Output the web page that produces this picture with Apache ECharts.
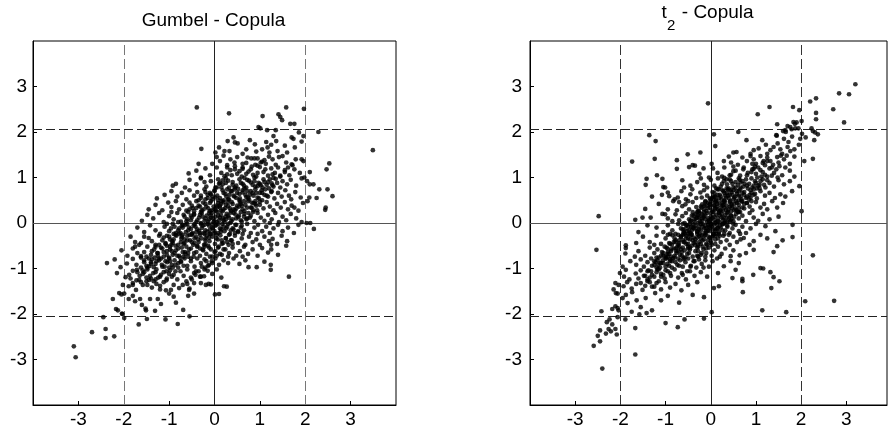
<!DOCTYPE html>
<html>
<head>
<meta charset="utf-8">
<script src="https://cdn.jsdelivr.net/npm/echarts@6/dist/echarts.min.js"></script>
<style>
html, body { margin: 0; padding: 0; background: #fff; }
#chart { width: 888px; height: 435px; }
</style>
</head>
<body>
<div id="chart"></div>
<script>
const tickValues = [-3, -2, -1, 0, 1, 2, 3];
const refVertical = [-2, 0, 2];
const refHorizontal = [-2.05, 0, 2.05];

// Gumbel copula sample (outer part of the cloud)
const gumbelPoints = [
  [-0.39,2.54],[0.32,2.41],[1.06,2.35],[1.58,2.54],[1.97,2.51],[1.41,2.39],[1.45,2.33],[1.49,2.26],[1.67,2.18],[1.76,2.18],
  [0.97,2.11],[1.01,2.08],[1.16,2.04],[1.35,2.04],[1.86,1.99],[2.29,2.0],[1.96,1.91],
  [1.70,1.88],[1.74,1.85],[1.30,1.91],[3.49,1.60],[0.42,1.88],[0.45,1.77],[0.29,1.80],[0.10,1.66],[0.89,1.73],[1.14,1.78],
  [1.17,1.66],[1.36,1.80],[1.77,1.66],[1.92,1.79],[0.22,1.58],[0.33,1.58],[0.92,1.57],[1.21,1.55],[1.39,1.58],[-0.29,1.63],
  [0.51,1.75],[0.62,1.52],[1.05,1.62],[1.55,1.70],[0.70,1.62],[1.60,1.55],[0.02,1.55],[0.78,1.82],[1.25,1.72],
  [-0.35,1.30],[0.05,1.45],[0.12,1.36],[0.28,1.27],[0.44,1.33],[0.50,1.45],[0.73,1.44],[0.81,1.42],[0.88,1.42],[0.95,1.42],
  [1.05,1.35],[1.13,1.30],[1.28,1.40],[1.35,1.28],[1.50,1.47],[1.58,1.33],[1.79,1.40],[1.92,1.40],[1.96,1.36],[2.53,1.31],
  [0.62,1.30],[0.20,1.48],[-0.05,1.30],[0.90,1.28],[1.42,1.45],[1.70,1.29],[0.35,1.40],[1.20,1.46],
  [-0.57,1.09],[-0.40,1.15],[-0.20,1.20],[-0.10,1.05],[0.05,1.22],[0.15,1.10],[0.28,1.22],[0.38,1.05],[0.55,1.14],[0.62,1.22],
  [0.70,1.08],[0.80,1.18],[0.92,1.02],[1.00,1.23],[1.08,1.12],[1.18,1.04],[1.25,1.20],[1.33,1.10],[1.45,1.02],[1.55,1.16],
  [1.72,1.27],[1.76,1.18],[1.65,1.05],[1.88,1.10],[1.98,1.00],[2.47,1.18],[0.45,1.18],[0.22,1.03],[-0.30,1.00],[1.40,1.22],
  [0.85,1.06],[2.10,1.12],
  [-0.92,0.82],[-0.85,0.86],[-0.65,0.78],[-0.55,0.95],[-0.40,0.85],[-0.30,0.98],[-0.18,0.80],[-0.08,0.92],[0.02,0.78],[0.08,0.96],
  [0.18,0.85],[0.25,0.98],[0.32,0.78],[0.40,0.90],[0.48,0.82],[0.55,0.96],[0.62,0.86],[0.70,0.78],[0.76,0.93],[0.84,0.84],
  [0.90,0.80],[0.97,0.88],[1.02,0.83],[1.06,0.78],[1.10,0.90],[1.15,0.84],[1.22,0.96],[1.30,0.80],[1.38,0.88],[1.45,0.78],
  [1.50,0.92],[1.60,0.85],[1.68,0.95],[1.80,0.82],[2.04,0.92],[2.18,0.85],[2.10,0.85],[1.92,0.98],[0.12,0.88],[0.66,0.99],
  [1.26,0.87],[-0.22,0.90],
  [-1.27,0.54],[-1.10,0.62],[-0.95,0.70],[-0.82,0.58],[-0.72,0.66],[-0.62,0.52],[-0.55,0.72],[-0.45,0.60],[-0.38,0.68],[-0.30,0.55],
  [-0.22,0.74],[-0.15,0.62],[-0.05,0.52],[0.00,0.70],[0.06,0.60],[0.12,0.55],[0.18,0.72],[0.24,0.64],[0.30,0.52],[0.36,0.70],
  [0.42,0.60],[0.50,0.66],[0.56,0.54],[0.62,0.72],[0.68,0.62],[0.74,0.56],[0.80,0.70],[0.86,0.60],[0.92,0.66],[0.98,0.54],
  [1.04,0.72],[1.10,0.62],[1.18,0.58],[1.26,0.70],[1.32,0.54],[1.40,0.66],[1.48,0.58],[1.56,0.72],[1.64,0.60],[1.69,0.52],
  [1.78,0.68],[1.90,0.56],[2.09,0.56],[2.31,0.74],[2.49,0.74],[2.60,0.59],[2.25,0.55],[0.44,0.74],[-0.10,0.66],[0.20,0.50],
  [-1.45,0.30],[-1.30,0.40],[-1.15,0.28],[-1.02,0.45],[-0.95,0.35],[-0.85,0.48],[-0.78,0.30],[-0.70,0.40],[-0.62,0.27],[-0.55,0.45],
  [-0.48,0.33],[-0.40,0.48],[-0.35,0.38],[-0.28,0.28],[-0.20,0.42],[-0.14,0.32],[-0.08,0.48],[-0.02,0.36],[0.03,0.27],[0.08,0.44],
  [0.12,0.34],[0.16,0.48],[0.20,0.30],[0.25,0.40],[0.30,0.46],[0.34,0.32],[0.40,0.42],[0.45,0.28],[0.50,0.38],[0.56,0.46],
  [0.62,0.30],[0.68,0.40],[0.74,0.48],[0.80,0.34],[0.86,0.44],[0.94,0.28],[1.00,0.40],[1.08,0.32],[1.15,0.46],[1.22,0.36],
  [1.30,0.28],[1.38,0.42],[1.46,0.34],[1.55,0.46],[1.62,0.30],[1.70,0.38],[1.76,0.34],[1.85,0.27],[1.95,0.44],[2.05,0.48],
  [2.44,0.29],[2.45,0.34],[0.05,0.38],[-0.10,0.26],[0.36,0.27],[0.90,0.48],
  [-1.60,0.05],[-1.48,0.18],[-1.35,0.10],[-1.22,0.22],[-1.12,0.02],[-1.00,0.15],[-0.90,0.08],[-0.82,0.22],[-0.74,0.03],[-0.66,0.14],
  [-0.58,0.24],[-0.52,0.06],[-0.45,0.18],[-0.40,0.02],[-0.34,0.12],[-0.28,0.22],[-0.22,0.05],[-0.17,0.16],[-0.12,0.08],[-0.06,0.22],
  [-0.02,0.02],[0.02,0.14],[0.06,0.24],[0.10,0.06],[0.14,0.18],[0.18,0.10],[0.22,0.02],[0.27,0.20],[0.32,0.12],[0.37,0.04],
  [0.42,0.22],[0.48,0.10],[0.54,0.16],[0.60,0.03],[0.66,0.20],[0.72,0.10],[0.80,0.16],[0.88,0.04],[0.95,0.22],[1.02,0.12],
  [1.10,0.05],[1.18,0.18],[1.26,0.08],[1.34,0.22],[1.42,0.02],[1.50,0.14],[1.58,0.06],[1.68,0.20],[1.80,0.10],[1.92,0.02],
  [2.03,0.00],[2.11,0.00],[-0.08,0.12],[0.25,0.08],[-0.30,0.00],[0.58,0.24],[-0.95,0.24],[0.85,0.24],[1.22,0.00],
  [-1.70,-0.10],[-1.55,-0.20],[-1.42,-0.05],[-1.30,-0.16],[-1.20,-0.24],[-1.10,-0.08],[-1.00,-0.18],[-0.92,-0.02],[-0.85,-0.22],[-0.78,-0.12],
  [-0.70,-0.04],[-0.63,-0.20],[-0.56,-0.10],[-0.50,-0.24],[-0.44,-0.02],[-0.38,-0.14],[-0.32,-0.22],[-0.26,-0.06],[-0.20,-0.16],[-0.15,-0.02],
  [-0.10,-0.24],[-0.05,-0.10],[0.00,-0.18],[0.04,-0.04],[0.08,-0.22],[0.12,-0.12],[0.17,-0.02],[0.22,-0.18],[0.28,-0.08],[0.34,-0.24],
  [0.40,-0.12],[0.46,-0.04],[0.52,-0.20],[0.58,-0.10],[0.65,-0.16],[0.72,-0.02],[0.80,-0.22],[0.88,-0.10],[0.96,-0.04],[1.05,-0.18],
  [1.14,-0.08],[1.22,-0.22],[1.30,-0.12],[1.40,-0.04],[1.50,-0.18],[1.62,-0.10],[1.75,-0.22],[2.19,-0.13],[-0.60,-0.02],[-0.22,-0.24],
  [0.15,-0.14],[0.62,-0.24],[-1.05,-0.02],[-0.05,-0.02],[0.30,-0.02],[-0.42,-0.08],[0.95,-0.24],[-0.75,-0.22],[1.85,-0.04],
  [-1.85,-0.30],[-1.75,-0.42],[-1.62,-0.44],[-1.55,-0.30],[-1.45,-0.33],[-1.38,-0.40],[-1.30,-0.48],[-1.22,-0.28],[-1.15,-0.38],[-1.08,-0.46],
  [-1.00,-0.30],[-0.93,-0.40],[-0.86,-0.26],[-0.80,-0.48],[-0.73,-0.34],[-0.66,-0.44],[-0.60,-0.28],[-0.54,-0.38],[-0.47,-0.48],[-0.41,-0.30],
  [-0.35,-0.42],[-0.29,-0.34],[-0.23,-0.48],[-0.17,-0.28],[-0.11,-0.40],[-0.05,-0.30],[0.01,-0.46],[0.07,-0.36],[0.13,-0.27],[0.19,-0.44],
  [0.25,-0.33],[0.31,-0.48],[0.38,-0.38],[0.45,-0.28],[0.52,-0.44],[0.60,-0.34],[0.68,-0.48],[0.76,-0.30],[0.84,-0.42],[0.92,-0.36],
  [1.00,-0.48],[1.10,-0.30],[1.20,-0.40],[1.28,-0.35],[1.38,-0.46],[1.48,-0.28],[1.60,-0.40],[-1.66,-0.48],[-0.95,-0.48],[-0.50,-0.26],
  [0.05,-0.26],[-0.20,-0.38],[0.40,-0.46],[-0.70,-0.26],[1.25,-0.48],[1.58,-0.50],
  [-2.05,-0.60],[-1.92,-0.72],[-1.80,-0.56],[-1.70,-0.66],[-1.62,-0.73],[-1.55,-0.64],[-1.48,-0.52],[-1.40,-0.70],[-1.33,-0.58],[-1.26,-0.66],
  [-1.18,-0.54],[-1.12,-0.74],[-1.05,-0.62],[-0.98,-0.52],[-0.92,-0.70],[-0.85,-0.60],[-0.78,-0.72],[-0.72,-0.54],[-0.65,-0.64],[-0.58,-0.74],
  [-0.52,-0.56],[-0.45,-0.66],[-0.38,-0.52],[-0.32,-0.72],[-0.25,-0.60],[-0.18,-0.68],[-0.12,-0.54],[-0.05,-0.74],[0.02,-0.62],[0.09,-0.52],
  [0.16,-0.70],[0.24,-0.58],[0.32,-0.66],[0.40,-0.54],[0.48,-0.72],[0.56,-0.62],[0.65,-0.52],[0.74,-0.68],[0.84,-0.58],[0.95,-0.72],
  [1.05,-0.55],[1.18,-0.65],[1.25,-0.58],[1.40,-0.70],[-1.75,-0.52],[-0.68,-0.74],[-0.22,-0.52],[0.30,-0.74],[-1.50,-0.74],[0.62,-0.74],
  [-2.37,-0.88],[-2.20,-0.80],[-2.07,-0.97],[-1.93,-0.89],[-1.80,-0.79],[-1.72,-0.92],[-1.62,-0.76],[-1.55,-0.86],[-1.48,-0.98],[-1.44,-0.95],
  [-1.38,-0.80],[-1.30,-0.90],[-1.22,-0.78],[-1.15,-0.96],[-1.08,-0.84],[-1.00,-0.76],[-0.94,-0.92],[-0.88,-0.82],[-0.80,-0.98],[-0.74,-0.86],
  [-0.66,-0.78],[-0.60,-0.94],[-0.52,-0.84],[-0.44,-0.96],[-0.38,-0.78],[-0.30,-0.88],[-0.22,-0.80],[-0.14,-0.94],[-0.06,-0.84],[0.02,-0.78],
  [0.10,-0.92],[0.20,-0.82],[0.30,-0.88],[0.42,-0.78],[0.55,-0.90],[0.68,-0.82],[0.75,-0.97],[0.93,-0.97],[1.10,-0.85],[1.24,-0.92],
  [-1.00,-0.98],[-0.20,-0.98],
  [-2.15,-1.10],[-1.96,-1.19],[-1.88,-1.14],[-1.80,-1.05],[-1.71,-1.03],[-1.66,-1.25],[-1.58,-1.12],[-1.50,-1.20],[-1.44,-1.25],[-1.35,-1.10],
  [-1.28,-1.02],[-1.20,-1.18],[-1.12,-1.08],[-1.05,-1.22],[-0.98,-1.04],[-0.90,-1.14],[-0.82,-1.24],[-0.75,-1.06],[-0.68,-1.16],[-0.60,-1.02],
  [-0.52,-1.20],[-0.45,-1.10],[-0.41,-1.06],[-0.32,-1.18],[-0.23,-1.17],[-0.15,-1.05],[-0.05,-1.12],[0.05,-1.02],[0.15,-1.20],[1.24,-1.03],
  [1.64,-1.18],[-1.30,-1.24],
  [-2.02,-1.36],[-1.89,-1.39],[-1.80,-1.32],[-1.73,-1.47],[-1.58,-1.36],[-1.50,-1.28],[-1.38,-1.42],[-1.28,-1.34],[-1.20,-1.46],[-1.12,-1.30],
  [-1.07,-1.48],[-0.96,-1.47],[-0.90,-1.36],[-0.78,-1.43],[-0.70,-1.36],[-0.62,-1.28],[-0.55,-1.44],[-0.45,-1.32],[-0.30,-1.32],[-0.19,-1.36],
  [-0.13,-1.34],[-0.08,-1.35],[0.21,-1.39],[0.27,-1.40],
  [-2.24,-1.67],[-2.10,-1.54],[-2.05,-1.57],[-1.99,-1.55],[-1.89,-1.67],[-1.80,-1.60],[-1.64,-1.67],[-1.51,-1.92],[-1.42,-1.67],[-1.31,-1.93],
  [-1.25,-1.67],[-1.18,-1.78],[-1.00,-1.55],[-0.90,-1.62],[-0.85,-1.75],[-0.69,-1.91],[-0.56,-1.47],[-0.58,-1.60],[-0.45,-1.55],[-2.17,-1.89],
  [-2.13,-1.92],[-2.04,-1.99],[-1.52,-1.88],[0.10,-1.56],[0.01,-1.57],[-1.60,-1.80],[-1.75,-1.72],
  [-2.45,-2.07],[-1.99,-2.09],[-2.70,-2.40],[-2.40,-2.33],[-2.40,-2.53],[-2.21,-2.49],[-3.10,-2.71],[-3.06,-2.95],[-1.67,-2.23],[-1.49,-2.11],
  [-1.08,-2.12],[-0.81,-2.22],[-0.55,-2.05],[-2.03,-2.00]
];

// dense core of the Gumbel cloud along the diagonal
const gumbelCore = [
  [0.70,1.32],[0.95,1.26],[1.10,1.38],[0.82,1.24],[1.02,1.33],
  [0.60,1.02],[0.75,1.13],[0.95,1.10],[1.12,1.18],[0.50,1.08],[0.88,1.00],[1.28,1.07],
  [0.40,0.84],[0.58,0.88],[0.72,0.95],[0.88,0.92],[1.00,0.86],[1.08,0.96],[0.30,0.93],[0.95,0.81],[0.65,0.82],[1.18,0.90],[0.80,0.89],
  [0.20,0.66],[0.33,0.62],[0.45,0.78],[0.55,0.64],[0.66,0.76],[0.78,0.62],[0.90,0.74],[1.00,0.66],[0.15,0.78],[0.38,0.70],
  [0.72,0.70],[0.52,0.75],[0.84,0.66],[0.28,0.74],[0.62,0.67],
  [-0.10,0.44],[0.02,0.56],[0.14,0.42],[0.26,0.58],[0.38,0.46],[0.48,0.55],[0.58,0.42],[0.70,0.57],[0.82,0.45],[-0.20,0.52],
  [0.08,0.50],[0.32,0.52],[0.55,0.50],[0.20,0.46],[0.44,0.58],[0.65,0.48],[-0.05,0.58],[0.76,0.52],
  [-0.30,0.24],[-0.18,0.36],[-0.06,0.28],[0.06,0.35],[0.18,0.26],[0.30,0.37],[0.42,0.30],[0.54,0.36],[0.66,0.26],[-0.40,0.33],
  [-0.12,0.22],[0.00,0.30],[0.12,0.38],[0.24,0.33],[0.36,0.23],[0.48,0.32],[0.60,0.38],[-0.24,0.30],[0.72,0.34],[0.14,0.27],
  [-0.50,0.12],[-0.38,0.06],[-0.26,0.14],[-0.14,0.03],[-0.03,0.10],[0.08,0.16],[0.20,0.06],[0.30,0.16],[0.40,0.08],[0.52,0.13],
  [-0.45,0.20],[-0.20,0.10],[0.00,0.05],[0.12,0.12],[0.24,0.14],[0.35,0.00],[-0.32,0.18],[-0.08,0.17],[0.46,0.19],[0.05,0.02],[-0.60,0.08],
  [-0.70,-0.10],[-0.58,-0.16],[-0.46,-0.06],[-0.34,-0.17],[-0.22,-0.04],[-0.10,-0.15],[0.02,-0.06],[0.14,-0.19],[0.26,-0.12],[-0.64,-0.04],
  [-0.52,-0.13],[-0.40,-0.20],[-0.28,-0.11],[-0.16,-0.19],[-0.04,-0.12],[0.08,-0.02],[0.20,-0.08],[-0.12,-0.06],[-0.30,-0.02],[0.36,-0.16],
  [-0.90,-0.36],[-0.78,-0.24],[-0.66,-0.36],[-0.55,-0.26],[-0.44,-0.34],[-0.32,-0.26],[-0.20,-0.34],[-0.08,-0.24],[0.04,-0.34],[0.16,-0.38],
  [-0.72,-0.30],[-0.60,-0.38],[-0.48,-0.22],[-0.36,-0.36],[-0.24,-0.22],[-0.12,-0.32],[0.00,-0.22],[-0.84,-0.28],
  [-1.05,-0.50],[-0.92,-0.44],[-0.80,-0.56],[-0.68,-0.46],[-0.56,-0.58],[-0.44,-0.44],[-0.32,-0.56],[-0.20,-0.46],[-0.08,-0.58],[-0.98,-0.58],
  [-0.86,-0.50],[-0.74,-0.42],[-0.62,-0.52],[-0.50,-0.42],[-0.38,-0.50],[-0.26,-0.58],[-0.14,-0.50],
  [-1.25,-0.72],[-1.12,-0.64],[-1.00,-0.78],[-0.88,-0.66],[-0.76,-0.76],[-0.64,-0.68],[-0.52,-0.78],[-0.40,-0.64],[-1.18,-0.78],[-1.05,-0.70],
  [-0.94,-0.62],[-0.82,-0.72],[-0.70,-0.64],[-0.58,-0.66],[-0.46,-0.74],
  [-1.40,-0.90],[-1.28,-0.84],[-1.16,-0.92],[-1.04,-0.86],[-0.92,-0.98],[-0.80,-0.88],[-0.68,-0.94],[-1.34,-0.97],[-1.22,-0.82],[-1.10,-0.96],
  [-0.98,-0.84],[-0.86,-0.92],[-0.74,-0.84],
  [-1.55,-1.08],[-1.42,-1.16],[-1.30,-1.08],[-1.18,-1.14],[-1.06,-1.06],[-0.94,-1.18],[-1.48,-1.02],[-1.24,-1.20],[-1.00,-1.12],[-0.86,-1.06],
  [-1.62,-1.30],[-1.48,-1.36],[-1.34,-1.28],[-1.20,-1.38],[-1.06,-1.26],[-1.40,-1.22]
];

// points either side of the Gumbel core
const gumbelMid = [
  [0.45,1.25],[1.62,1.22],[0.35,1.16],[1.55,1.12],[0.62,1.19],[0.28,1.07],[1.45,1.04],[1.30,0.99],
  [0.18,0.94],[1.35,0.97],[0.25,0.88],[0.10,0.86],[1.28,0.83],[1.20,0.76],[0.05,0.78],
  [0.00,0.72],[1.12,0.74],[1.25,0.68],[-0.08,0.63],[1.05,0.66],[-0.20,0.68],[1.15,0.60],
  [-0.15,0.55],[0.95,0.56],[1.05,0.50],[-0.30,0.60],[-0.25,0.45],[0.90,0.42],[-0.35,0.50],[1.00,0.47],
  [-0.32,0.36],[0.82,0.34],[-0.50,0.38],[0.92,0.38],[-0.45,0.26],[0.75,0.22],[-0.55,0.30],[0.86,0.28],
  [-0.52,0.16],[0.65,0.14],[-0.68,0.18],[0.78,0.12],[-0.62,0.04],[0.58,0.06],[-0.80,0.02],[0.70,0.08],
  [-0.72,-0.06],[0.48,-0.04],[-0.88,-0.08],[0.60,-0.06],[-0.80,-0.16],[0.42,-0.14],[-0.96,-0.12],[0.52,-0.18],
  [-0.90,-0.24],[0.32,-0.26],[-1.05,-0.28],[0.45,-0.22],[-0.98,-0.36],[0.25,-0.34],[-1.12,-0.32],[0.36,-0.38],
  [-1.08,-0.44],[0.16,-0.46],[-1.22,-0.48],[0.28,-0.42],[-1.15,-0.56],[0.08,-0.54],[-1.30,-0.52],[0.20,-0.58],
  [-1.25,-0.66],[0.00,-0.64],[-1.38,-0.62],[0.12,-0.68],[-1.32,-0.76],[-0.10,-0.74],[-1.45,-0.78],[0.05,-0.72],
  [-1.40,-0.86],[-0.18,-0.84],[-1.55,-0.82],[-0.05,-0.88],[-1.50,-0.94],[-0.28,-0.96],[-1.62,-0.98],[-0.12,-0.92],
  [-1.58,-1.04],[-0.35,-1.06],[-1.70,-1.08],[-0.22,-1.02],[-1.65,-1.16],[-0.42,-1.14],[-0.30,-1.18],
  [-1.72,-1.26],[-0.50,-1.24],[-1.85,-1.22],[-1.80,-1.36],[-0.60,-1.34]
];

// t2 copula sample (outer part of the cloud)
const t2Points = [
  [3.20,3.05],[2.84,2.85],[3.06,2.83],[2.71,2.50],[2.95,2.21],[2.33,2.74],[2.20,2.67],[2.33,2.42],[2.33,2.28],[1.82,2.55],
  [1.96,2.48],[1.30,2.55],[1.04,2.39],[2.01,2.24],[1.83,2.22],[1.90,2.21],[1.76,2.11],[1.79,2.06],[1.87,2.08],[1.94,2.08],
  [2.23,2.08],[2.26,2.02],[1.47,2.17],[1.65,2.04],[1.60,2.02],[-0.06,2.63],[1.70,2.13],[1.86,2.18],
  [2.31,1.99],[2.37,1.95],[2.29,1.82],[2.10,1.88],[1.45,1.93],[1.14,1.82],[0.79,1.82],[0.61,2.00],[0.07,1.95],[0.10,1.69],
  [1.70,1.67],[1.76,1.58],[1.39,1.67],[1.32,1.60],[1.54,1.62],[1.58,1.52],[1.25,1.52],[1.06,1.64],[0.50,1.55],[0.57,1.56],
  [-1.36,1.93],[-1.22,1.80],[-0.51,1.51],[-0.23,1.55],[1.46,1.92],[1.66,2.00],[1.80,1.90],[1.72,1.78],[1.95,1.72],[1.85,1.62],
  [1.62,1.85],[1.22,1.72],[0.95,1.60],[1.48,1.75],[2.02,1.96],[1.98,1.85],[0.88,1.52],
  [0.88,1.47],[1.10,1.47],[1.17,1.36],[1.47,1.45],[1.50,1.33],[1.32,1.36],[2.07,1.36],[2.26,1.41],[0.70,1.44],[0.29,1.36],
  [0.45,1.33],[-1.74,1.35],[-1.24,1.41],[-0.75,1.38],[-0.40,1.27],[-0.35,1.26],[0.02,1.30],[0.60,1.28],[0.80,1.36],[1.00,1.30],
  [1.25,1.44],[1.38,1.28],[1.62,1.40],[1.75,1.30],[1.85,1.46],[1.55,1.48],[0.95,1.40],[1.20,1.27],[0.40,1.46],[1.68,1.48],
  [1.52,1.25],[0.73,1.22],[0.92,1.18],[1.10,1.16],[1.65,1.22],[-0.48,1.23],[-0.75,1.19],[-0.16,1.20],[-1.19,1.05],[-0.04,1.00],
  [1.03,1.00],[0.15,1.10],[0.30,1.22],[0.42,1.05],[0.55,1.15],[0.65,1.04],[0.82,1.10],[1.20,1.06],[1.30,1.20],[1.40,1.10],
  [1.58,1.05],[1.75,1.15],[1.85,1.02],[0.05,1.20],[0.25,1.02],[0.98,1.24],[1.48,1.00],[-0.25,1.08],[0.50,1.24],[1.12,1.02],
  [-1.07,0.97],[-1.42,0.97],[-1.44,0.84],[-1.05,0.79],[-1.01,0.78],[-0.63,0.94],[-0.59,0.78],[-0.08,0.78],[0.29,0.92],[0.66,0.89],
  [1.21,0.78],[1.96,0.81],[-0.30,0.90],[-0.15,0.84],[0.00,0.95],[0.08,0.82],[0.16,0.98],[0.22,0.80],[0.36,0.85],[0.42,0.96],
  [0.50,0.78],[0.55,0.90],[0.72,0.80],[0.78,0.96],[0.85,0.86],[0.92,0.78],[0.98,0.92],[1.08,0.84],[1.15,0.96],[1.30,0.88],
  [1.40,0.80],[1.50,0.94],[1.62,0.85],[1.75,0.92],[0.12,0.76],[0.62,0.98],[-0.45,0.82],[0.40,0.76],[1.02,0.76],[-0.22,0.98],
  [0.30,0.99],
  [-0.95,0.67],[-0.92,0.59],[-1.08,0.62],[-0.73,0.56],[-0.41,0.74],[-0.45,0.63],[-0.23,0.67],[1.54,0.63],[-0.65,0.70],[-0.55,0.52],
  [-0.32,0.55],[-0.15,0.72],[-0.08,0.60],[0.00,0.52],[0.04,0.68],[0.10,0.58],[0.15,0.74],[0.20,0.62],[0.24,0.52],[0.28,0.70],
  [0.32,0.60],[0.36,0.66],[0.40,0.54],[0.44,0.72],[0.48,0.62],[0.52,0.56],[0.57,0.70],[0.62,0.60],[0.68,0.52],[0.74,0.68],
  [0.80,0.58],[0.88,0.72],[0.95,0.62],[1.02,0.54],[1.10,0.70],[1.20,0.60],[1.30,0.66],[1.42,0.55],[1.65,0.58],[1.80,0.70],
  [-0.80,0.52],[0.30,0.50],[0.12,0.50],[-0.20,0.56],[0.65,0.74],[0.85,0.52],[0.38,0.74],[0.05,0.58],[-1.30,0.58],
  [-0.83,0.48],[-0.63,0.37],[-0.56,0.41],[-1.45,0.31],[-0.48,0.30],[-0.19,0.41],[1.36,0.48],[1.47,0.34],[1.10,0.34],[2.01,0.26],
  [-1.15,0.42],[-0.95,0.30],[-0.75,0.28],[-0.40,0.46],[-0.32,0.35],[-0.26,0.27],[-0.12,0.48],[-0.06,0.32],[-0.02,0.42],[0.03,0.28],
  [0.07,0.38],[0.11,0.48],[0.15,0.30],[0.19,0.44],[0.23,0.36],[0.27,0.27],[0.31,0.46],[0.35,0.38],[0.39,0.30],[0.43,0.48],
  [0.47,0.34],[0.52,0.42],[0.57,0.28],[0.62,0.40],[0.68,0.48],[0.74,0.32],[0.80,0.44],[0.86,0.36],[0.92,0.28],[1.00,0.46],
  [1.18,0.42],[1.25,0.30],[1.60,0.44],[-0.70,0.46],[0.20,0.27],[0.10,0.33],[-0.15,0.30],[0.45,0.26],[0.28,0.40],[0.56,0.48],
  [0.02,0.47],[-0.50,0.48],[0.90,0.48],
  [-2.48,0.15],[-1.07,0.20],[-1.01,0.19],[-1.51,0.12],[-1.33,0.12],[-1.67,0.07],[-0.78,0.19],[-0.85,0.04],[-0.34,0.19],[-0.63,0.15],
  [-0.70,0.06],[-0.55,0.22],[-0.48,0.08],[-0.42,0.16],[-0.36,0.03],[-0.30,0.12],[-0.25,0.22],[-0.20,0.05],[-0.16,0.16],[-0.12,0.08],
  [-0.08,0.22],[-0.04,0.02],[0.00,0.14],[0.04,0.24],[0.08,0.06],[0.12,0.18],[0.16,0.10],[0.20,0.02],[0.24,0.20],[0.28,0.12],
  [0.32,0.04],[0.36,0.22],[0.40,0.10],[0.45,0.16],[0.50,0.04],[0.56,0.20],[0.62,0.10],[0.70,0.16],[0.78,0.04],[0.86,0.22],
  [0.95,0.12],[1.05,0.05],[1.15,0.20],[1.30,0.08],[1.50,0.14],[-0.95,0.10],[-0.05,0.10],[0.18,0.24],[-0.28,0.00],[0.30,0.00],
  [0.10,0.00],[-0.58,0.00],[0.65,0.24],[-0.15,0.24],[0.42,0.02],[-0.40,0.24],
  [-1.20,-0.10],[-1.05,-0.20],[-0.95,-0.05],[-0.85,-0.16],[-0.78,-0.24],[-0.72,-0.02],[-0.66,-0.12],[-0.60,-0.20],[-0.54,-0.06],[-0.48,-0.16],
  [-0.43,-0.24],[-0.38,-0.03],[-0.34,-0.12],[-0.30,-0.20],[-0.26,-0.08],[-0.22,-0.16],[-0.18,-0.02],[-0.14,-0.22],[-0.10,-0.12],[-0.06,-0.04],
  [-0.02,-0.18],[0.02,-0.08],[0.06,-0.24],[0.10,-0.14],[0.14,-0.04],[0.18,-0.20],[0.22,-0.10],[0.27,-0.02],[0.32,-0.16],[0.37,-0.08],
  [0.42,-0.22],[0.48,-0.12],[0.55,-0.04],[0.62,-0.18],[0.70,-0.08],[0.78,-0.22],[0.88,-0.12],[1.00,-0.02],[1.21,-0.07],[1.43,-0.18],
  [1.81,-0.04],[-1.40,-0.05],[-0.62,-0.02],[-0.24,-0.24],[0.00,-0.02],[0.12,-0.24],[-0.40,-0.10],[0.30,-0.24],[-0.90,-0.24],[0.50,-0.02],
  [-0.12,-0.06],[0.05,-0.14],[-0.50,-0.24],[0.65,-0.24],[-1.60,-0.20],
  [1.81,-0.31],[1.59,-0.38],[0.73,-0.33],[0.86,-0.48],[1.10,-0.26],[-1.88,-0.49],[-1.50,-0.30],[-1.35,-0.42],[-1.20,-0.28],[-1.10,-0.46],
  [-1.00,-0.34],[-0.92,-0.44],[-0.85,-0.27],[-0.78,-0.38],[-0.72,-0.48],[-0.66,-0.30],[-0.60,-0.42],[-0.55,-0.34],[-0.50,-0.46],[-0.45,-0.27],
  [-0.40,-0.38],[-0.35,-0.48],[-0.30,-0.32],[-0.25,-0.42],[-0.20,-0.27],[-0.15,-0.36],[-0.10,-0.46],[-0.05,-0.30],[0.00,-0.40],[0.05,-0.28],
  [0.10,-0.46],[0.16,-0.34],[0.22,-0.42],[0.28,-0.28],[0.35,-0.38],[0.42,-0.48],[0.50,-0.30],[0.58,-0.42],[0.66,-0.36],[0.95,-0.40],
  [1.25,-0.34],[-1.65,-0.44],[-0.95,-0.26],[-0.28,-0.48],[0.20,-0.28],[-0.62,-0.26],[0.02,-0.48],[-0.12,-0.26],[-0.46,-0.36],[0.40,-0.26],
  [-1.25,-0.48],
  [-2.53,-0.59],[-1.88,-0.55],[-1.89,-0.67],[1.47,-0.51],[1.39,-0.64],[2.26,-0.71],[0.44,-0.73],[0.64,-0.71],[0.95,-0.59],[-1.60,-0.62],
  [-1.45,-0.72],[-1.35,-0.54],[-1.25,-0.66],[-1.18,-0.58],[-1.10,-0.72],[-1.02,-0.52],[-0.95,-0.64],[-0.88,-0.74],[-0.82,-0.56],[-0.76,-0.66],
  [-0.70,-0.52],[-0.64,-0.72],[-0.58,-0.60],[-0.52,-0.68],[-0.46,-0.54],[-0.40,-0.74],[-0.34,-0.62],[-0.28,-0.52],[-0.22,-0.70],[-0.16,-0.58],
  [-0.10,-0.66],[-0.04,-0.54],[0.02,-0.72],[0.08,-0.60],[0.16,-0.52],[0.24,-0.68],[0.32,-0.56],[0.50,-0.60],[0.78,-0.66],[-0.72,-0.62],
  [-1.00,-0.74],[-0.12,-0.74],[-1.68,-0.74],[0.20,-0.74],[-0.50,-0.52],[-0.30,-0.72],
  [-1.78,-0.84],[0.29,-0.95],[0.44,-0.84],[1.10,-0.99],[-1.65,-0.92],[-1.55,-0.80],[-1.48,-0.96],[-1.40,-0.86],[-1.32,-0.78],[-1.25,-0.92],
  [-1.18,-0.82],[-1.12,-0.98],[-1.05,-0.88],[-0.98,-0.78],[-0.92,-0.94],[-0.86,-0.84],[-0.80,-0.76],[-0.74,-0.92],[-0.68,-0.82],[-0.62,-0.96],
  [-0.56,-0.86],[-0.50,-0.78],[-0.44,-0.94],[-0.38,-0.84],[-0.32,-0.98],[-0.26,-0.80],[-0.20,-0.90],[-0.12,-0.82],[-0.04,-0.96],[0.04,-0.84],
  [0.14,-0.78],[0.62,-0.88],[-1.95,-0.96],[-0.90,-0.80],[-0.60,-0.76],[-0.16,-0.98],[-1.20,-0.76],
  [-2.01,-1.10],[-1.88,-1.03],[-1.66,-1.11],[1.32,-1.08],[1.39,-1.19],[1.16,-1.00],[0.94,-1.14],[0.70,-1.23],[0.48,-1.21],[0.55,-1.03],
  [0.16,-1.10],[-1.92,-1.18],[-1.80,-1.24],[-1.55,-1.04],[-1.48,-1.16],[-1.40,-1.24],[-1.32,-1.06],[-1.25,-1.18],[-1.18,-1.02],[-1.10,-1.12],
  [-1.02,-1.22],[-0.95,-1.06],[-0.88,-1.16],[-0.80,-1.02],[-0.72,-1.20],[-0.64,-1.10],[-0.55,-1.24],[-0.46,-1.06],[-0.36,-1.16],[-0.22,-1.08],
  [-0.08,-1.18],[-1.60,-1.22],
  [-2.11,-1.32],[-2.04,-1.36],[-1.93,-1.39],[-1.51,-1.47],[0.70,-1.28],[0.71,-1.52],[1.52,-1.28],[1.34,-1.43],[0.18,-1.39],[0.07,-1.43],
  [-1.85,-1.30],[-1.75,-1.44],[-1.65,-1.34],[-1.40,-1.28],[-1.30,-1.40],[-1.20,-1.32],[-1.10,-1.46],[-1.00,-1.30],[-0.90,-1.42],[-0.78,-1.34],
  [-0.65,-1.48],[-0.50,-1.36],[-0.30,-1.30],[-2.15,-1.46],
  [-2.10,-1.54],[-2.06,-1.55],[-1.88,-1.58],[-1.74,-1.52],[-1.84,-1.76],[-1.64,-1.70],[-2.11,-1.83],[-2.06,-1.87],[-2.04,-1.92],[-2.18,-1.89],
  [-2.42,-1.94],[-1.44,-1.65],[-1.23,-1.54],[-1.58,-2.01],[-1.42,-1.98],[-1.30,-1.92],[-0.15,-1.63],[1.14,-1.92],[1.67,-1.96],[2.09,-1.72],
  [2.73,-1.71],[0.02,-1.96],[-1.95,-1.65],[-1.55,-1.85],[-1.10,-1.70],[-0.95,-1.60],[-0.70,-1.75],[-1.75,-1.95],[-0.40,-1.58],
  [-2.06,-2.07],[-2.18,-2.23],[-2.24,-2.12],[-2.30,-2.18],[-2.26,-2.33],[-2.45,-2.36],[-2.50,-2.48],[-2.59,-2.70],[-2.45,-2.60],[-2.40,-3.20],
  [-2.21,-2.38],[-2.11,-2.33],[-2.08,-2.45],[-1.67,-2.89],[-1.67,-2.31],[-1.89,-2.12],[-1.00,-2.20],[-0.73,-2.29],[-0.58,-2.12],[-0.15,-2.10],
  [-2.32,-2.43]
];

// dense core of the t2 cloud along the diagonal
const t2Core = [
  [1.05,1.22],[1.15,1.32],[1.25,1.36],[0.92,1.30],[1.35,1.22],
  [0.80,1.05],[0.90,1.12],[1.00,1.08],[1.15,1.12],[0.72,1.18],[1.25,1.02],[0.95,1.19],
  [0.60,0.84],[0.70,0.92],[0.80,0.82],[0.90,0.98],[1.00,0.88],[0.48,0.86],[0.75,0.86],[0.95,0.82],[0.64,0.95],[1.10,0.92],
  [0.30,0.66],[0.42,0.62],[0.50,0.72],[0.58,0.64],[0.66,0.78],[0.74,0.62],[0.82,0.76],[0.35,0.76],[0.46,0.68],[0.62,0.70],
  [0.70,0.66],[0.26,0.72],[0.55,0.78],[0.90,0.66],
  [0.10,0.46],[0.18,0.54],[0.26,0.44],[0.34,0.56],[0.42,0.46],[0.50,0.52],[0.58,0.44],[0.66,0.58],[0.22,0.58],[0.30,0.48],
  [0.38,0.60],[0.46,0.42],[0.54,0.58],[0.04,0.54],[0.14,0.42],[0.62,0.50],[0.74,0.42],[-0.06,0.45],
  [-0.10,0.26],[-0.02,0.34],[0.06,0.24],[0.14,0.36],[0.22,0.28],[0.30,0.34],[0.38,0.24],[0.46,0.38],[-0.20,0.34],[0.00,0.22],
  [0.10,0.30],[0.18,0.22],[0.26,0.38],[0.34,0.29],[0.42,0.36],[0.54,0.32],[-0.30,0.24],[0.60,0.24],[0.08,0.39],[-0.14,0.38],
  [-0.32,0.10],[-0.24,0.04],[-0.16,0.12],[-0.08,0.02],[0.00,0.08],[0.08,0.14],[0.16,0.04],[0.24,0.12],[0.32,0.18],[-0.28,0.17],
  [-0.20,0.10],[-0.12,0.16],[-0.04,0.06],[0.04,0.12],[0.12,0.02],[0.20,0.17],[0.28,0.07],[0.36,0.12],[-0.44,0.06],[0.46,0.09],
  [-0.50,-0.08],[-0.42,-0.16],[-0.34,-0.06],[-0.26,-0.14],[-0.18,-0.08],[-0.10,-0.18],[-0.02,-0.10],[0.06,-0.04],[0.14,-0.12],[-0.46,-0.02],
  [-0.38,-0.12],[-0.30,-0.18],[-0.22,-0.02],[-0.14,-0.12],[-0.06,-0.16],[0.02,-0.02],[0.10,-0.18],[0.20,-0.06],[-0.58,-0.14],[-0.04,-0.08],
  [-0.66,-0.30],[-0.58,-0.24],[-0.50,-0.34],[-0.42,-0.26],[-0.34,-0.36],[-0.26,-0.28],[-0.18,-0.38],[-0.10,-0.22],[-0.02,-0.32],[-0.62,-0.38],
  [-0.54,-0.28],[-0.46,-0.22],[-0.38,-0.32],[-0.30,-0.24],[-0.22,-0.34],[-0.14,-0.28],[-0.06,-0.38],[0.06,-0.24],
  [-0.86,-0.48],[-0.78,-0.56],[-0.70,-0.44],[-0.62,-0.54],[-0.54,-0.46],[-0.46,-0.58],[-0.38,-0.44],[-0.30,-0.54],[-0.22,-0.46],[-0.82,-0.42],
  [-0.74,-0.52],[-0.66,-0.58],[-0.58,-0.42],[-0.50,-0.56],[-0.42,-0.50],[-0.34,-0.42],[-0.96,-0.56],
  [-1.05,-0.66],[-0.96,-0.74],[-0.88,-0.62],[-0.80,-0.72],[-0.72,-0.78],[-0.64,-0.64],[-0.56,-0.76],[-0.48,-0.66],[-1.00,-0.78],[-0.92,-0.68],
  [-0.84,-0.78],[-0.76,-0.62],[-0.68,-0.70],[-0.60,-0.80],
  [-1.25,-0.84],[-1.16,-0.92],[-1.06,-0.82],[-0.96,-0.90],[-0.86,-0.98],[-0.78,-0.86],[-1.20,-0.98],[-1.10,-0.88],[-1.00,-0.96],[-0.90,-0.84],[-0.70,-0.94],
  [-1.40,-1.06],[-1.30,-1.14],[-1.20,-1.08],[-1.10,-1.18],[-1.00,-1.04],[-0.90,-1.10],[-1.35,-1.20],[-1.15,-1.02],[-1.05,-1.14],
  [-1.55,-1.32],[-1.45,-1.38],[-1.35,-1.30],[-1.25,-1.40],[-1.15,-1.28]
];

// points either side of the t2 core
const t2Mid = [
  [0.50,1.14],[1.45,1.18],[0.45,1.06],[1.35,1.04],[0.35,0.96],[1.25,0.94],[0.45,0.92],
  [0.25,0.86],[1.18,0.84],[1.05,0.82],[0.18,0.74],[1.08,0.76],[0.95,0.74],
  [0.08,0.66],[0.98,0.64],[0.15,0.62],[0.86,0.62],[-0.02,0.54],[0.88,0.56],[0.08,0.57],[0.78,0.55],
  [-0.12,0.46],[0.80,0.44],[-0.02,0.40],[0.70,0.47],[-0.22,0.36],[0.70,0.34],[-0.10,0.38],[0.62,0.32],
  [-0.28,0.26],[0.62,0.24],[-0.20,0.20],[0.52,0.28],[-0.38,0.16],[0.52,0.14],[-0.26,0.13],[0.44,0.17],
  [-0.45,0.04],[0.44,0.06],[-0.36,0.08],[0.36,0.02],[-0.54,-0.04],[0.36,-0.06],[-0.44,-0.08],[0.26,-0.03],
  [-0.62,-0.14],[0.26,-0.16],[-0.52,-0.18],[0.16,-0.12],[-0.72,-0.26],[0.18,-0.24],[-0.60,-0.22],[0.10,-0.28],
  [-0.80,-0.34],[0.10,-0.36],[-0.70,-0.38],[0.02,-0.32],[-0.90,-0.46],[0.00,-0.44],[-0.78,-0.42],[-0.08,-0.48],
  [-0.98,-0.54],[-0.10,-0.56],[-0.88,-0.58],[-0.18,-0.52],[-1.08,-0.64],[-0.20,-0.66],[-0.96,-0.68],[-0.28,-0.62],
  [-1.15,-0.76],[-0.28,-0.74],[-1.05,-0.72],[-1.22,-0.86],[-0.36,-0.84],[-1.12,-0.88],
  [-1.30,-0.94],[-0.45,-0.96],[-1.38,-1.04],[-0.52,-1.06],[-1.45,-1.16],[-0.62,-1.14]
];

const fontFamily = '"Liberation Sans", Arial, sans-serif';
const chart = echarts.init(document.getElementById('chart'));

function refLines(dashColor) {
  const vertical = refVertical.map((v) => ({
    xAxis: v,
    lineStyle: v === 0 ? { type: 'solid', color: '#222' } : { type: [10, 4], color: dashColor },
  }));
  const horizontal = refHorizontal.map((v) => ({
    yAxis: v,
    lineStyle: v === 0 ? { type: 'solid', color: '#555' } : { type: [9, 4], color: '#222' },
  }));
  return vertical.concat(horizontal);
}

function xAxis(index, max) {
  return {
    type: 'value',
    gridIndex: index,
    min: -4,
    max: max,
    interval: 1,
    splitLine: { show: false },
    axisLine: { show: true, onZero: false, lineStyle: { color: '#000', width: 1 } },
    axisTick: { inside: true, length: 4, lineStyle: { color: '#000' }, customValues: tickValues },
    axisLabel: { margin: 5, color: '#000', fontSize: 19, fontFamily, customValues: tickValues },
  };
}

function yAxis(index, margin) {
  return {
    type: 'value',
    gridIndex: index,
    min: -4,
    max: 4,
    interval: 1,
    splitLine: { show: false },
    axisLine: { show: true, onZero: false, lineStyle: { color: '#000', width: 1 } },
    axisTick: { inside: true, length: 4, lineStyle: { color: '#000' }, customValues: tickValues },
    axisLabel: { margin: margin, color: '#000', fontSize: 19, fontFamily, customValues: tickValues },
  };
}

function scatter(index, data, dashColor) {
  return {
    type: 'scatter',
    xAxisIndex: index,
    yAxisIndex: index,
    data: data,
    symbol: 'circle',
    symbolSize: 4.7,
    itemStyle: { color: '#000' },
    z: 3,
    markLine: {
      silent: true,
      symbol: ['none', 'none'],
      label: { show: false },
      z: 1,
      data: refLines(dashColor),
    },
  };
}

function titleText(text, x, y, size) {
  return {
    type: 'text',
    x: x,
    y: y,
    style: {
      text: text,
      fill: '#000',
      align: 'left',
      verticalAlign: 'top',
      font: size + 'px ' + fontFamily,
      lineHeight: size + 3,
    },
  };
}

chart.setOption({
  animation: false,
  backgroundColor: '#fff',
  grid: [
    { left: 33, top: 41, width: 363, height: 364, show: true, borderColor: '#000', borderWidth: 1 },
    { left: 530, top: 41, width: 357, height: 364, show: true, borderColor: '#000', borderWidth: 1 },
  ],
  xAxis: [xAxis(0, 4), xAxis(1, 3.9)],
  yAxis: [yAxis(0, 6), yAxis(1, 8)],
  series: [
    scatter(0, gumbelPoints.concat(gumbelCore, gumbelMid), '#777'),
    scatter(1, t2Points.concat(t2Core, t2Mid), '#333'),
  ],
  graphic: [
    {
      type: 'text',
      x: 213.5,
      y: 10,
      style: {
        text: 'Gumbel - Copula',
        fill: '#000',
        align: 'center',
        verticalAlign: 'top',
        font: '19px ' + fontFamily,
        lineHeight: 22,
      },
    },
    titleText('t', 661.5, 2, 19),
    titleText('2', 667, 16.5, 15),
    titleText(' - Copula', 676.5, 2, 19),
  ],
});
</script>
</body>
</html>
